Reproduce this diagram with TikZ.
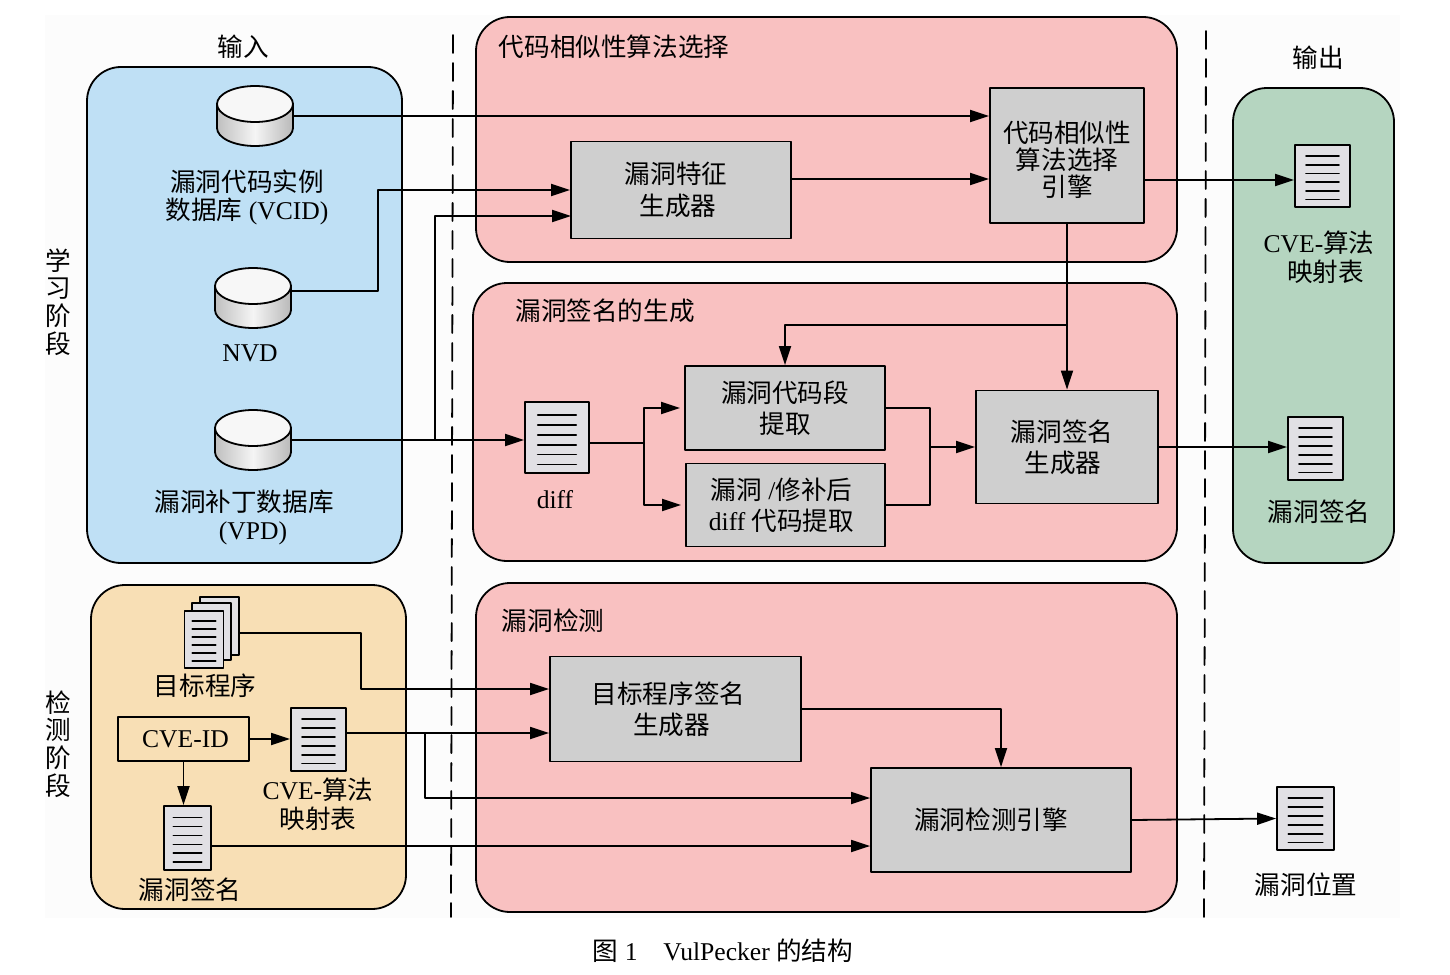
\documentclass[tikz,border=0pt]{standalone}
\usepackage{fontspec}
\setmainfont{Liberation Serif}
\newfontfamily\cjk{Noto Sans CJK SC}
\newcommand{\zh}[1]{{\cjk #1}}
\usepackage{tikz}
\usetikzlibrary{positioning}
\usetikzlibrary{calc}
\usetikzlibrary{arrows.meta}

\definecolor{bluepanel}{HTML}{BFE0F5}
\definecolor{orangepanel}{HTML}{F8DFB5}
\definecolor{pinkpanel}{HTML}{F9C1C1}
\definecolor{greenpanel}{HTML}{B5D5C0}
\definecolor{boxgray}{HTML}{CFCFCF}
\definecolor{docgray}{HTML}{E1E0E4}
\definecolor{bgfaint}{HTML}{FCFCFC}

\def\ppb{path picture bounding box}
\tikzset{
	panel/.style={draw,line width=.9pt,rounded corners=17pt},
	txt/.style={align=center,inner sep=0pt,font=\fontsize{12.8pt}{14.5pt}\selectfont},
	grey/.style={draw,line width=.9pt,fill=boxgray,align=center,inner sep=0pt,font=\fontsize{12.8pt}{15.7pt}\selectfont},
	page/.style={draw,line width=.9pt,fill=docgray,inner sep=0pt},
	doc/.style={page,path picture={
		\foreach \k in {0.18,0.32,0.46,0.60,0.74,0.88}
			\draw[line width=.9pt] ({$(\ppb.north west)!\k!(\ppb.south west)$} -| {$(\ppb.north west)!.2!(\ppb.north east)$}) -- ({$(\ppb.north west)!\k!(\ppb.south west)$} -| {$(\ppb.north west)!.8!(\ppb.north east)$});
	}},
	dbbox/.style={inner sep=0pt,minimum width=38pt,minimum height=30pt},
	line/.style={line width=.9pt},
	arr/.style={line width=.9pt,-{Triangle[length=9.5pt,width=6pt]}},
}
\newcommand{\dbicon}[3]{
	\node[dbbox] (#1) at (#2,#3) {};
	\begin{scope}[shift={(#2,#3)}]
		\shade[left color=gray!50,right color=gray!55,middle color=gray!8] (-38,-12) -- (-38,12) arc[start angle=180,end angle=0,x radius=38,y radius=18] -- (38,-12) -- cycle;
		\draw[line width=.9pt] (-38,-12) -- (-38,12) arc[start angle=180,end angle=0,x radius=38,y radius=18] -- (38,-12);
		\draw[line width=.9pt,fill=gray!6] (0,-12) ellipse [x radius=38,y radius=18];
	\end{scope}
}

\begin{document}
\begin{tikzpicture}[line cap=round,line join=round,x=0.5pt,y=-0.5pt]
	\useasboundingbox (0,0) rectangle (1450,974);
	\fill[white] (0,0) rectangle (1450,974);
	\fill[bgfaint] (45,15) rectangle (1400,918);
	
	% panels
	\draw [panel,fill=bluepanel] (87,67) rectangle (402,563);
	\draw [panel,fill=orangepanel] (91,585) rectangle (406,909);
	\draw [panel,fill=pinkpanel] (476,17) rectangle (1177,262);
	\draw [panel,fill=pinkpanel] (473,283) rectangle (1177,561);
	\draw [panel,fill=pinkpanel] (476,583) rectangle (1177,912);
	\draw [panel,fill=greenpanel] (1233,88) rectangle (1394,563);
	
	% phase borders
	\draw [line width=.9pt,dash pattern=on 9pt off 5pt] (453,35) -- (451,917);
	\draw [line width=.9pt,dash pattern=on 9pt off 5pt] (1206,31) -- (1204,917);
	
	% headings
	\node[txt] (inputlabel) at (243,47) {\zh{输入}};
	\node[txt] (outputlabel) at (1318,58) {\zh{输出}};
	\node[txt,font=\fontsize{12.8pt}{13.8pt}\selectfont] (learnlabel) at (58,302) {\zh{学}\\\zh{习}\\\zh{阶}\\\zh{段}};
	\node[txt,font=\fontsize{12.8pt}{13.8pt}\selectfont] (detectlabel) at (58,744) {\zh{检}\\\zh{测}\\\zh{阶}\\\zh{段}};
	\node[txt] (selectlabel) at (614,47) {\zh{代码相似性算法选择}};
	\node[txt] (signlabel) at (605,311) {\zh{漏洞签名的生成}};
	\node[txt] (vuldetlabel) at (553,621) {\zh{漏洞检测}};
	
	% input databases
	\dbicon{vcid}{255}{116}
	\dbicon{nvd}{253}{298}
	\dbicon{vpd}{253}{440}
	\node[txt,font=\fontsize{12.8pt}{14pt}\selectfont] (vcidlabel) at (247,197) {\zh{漏洞代码实例}\\\zh{数据库} (VCID)};
	\node[txt] (nvdlabel) at (250,353) {NVD};
	\node[txt,font=\fontsize{12.8pt}{14pt}\selectfont] (vpdlabel) at (244,517) {\zh{漏洞补丁数据库}\\\hspace*{9pt}(VPD)};
	
	% grey boxes
	\node[grey,minimum width=110pt,minimum height=48.5pt] (featgen) at (681,190) {\zh{漏洞特征}\hspace*{5pt}\\\zh{生成器}\hspace*{3pt}};
	\node[grey,minimum width=77pt,minimum height=67.5pt] (selengine) at (1067,155.5) {};
	\node[txt,font=\fontsize{12.8pt}{13.6pt}\selectfont] (selenginetext) at (1067,159.5) {\zh{代码相似性}\\\zh{算法选择}\\\zh{引擎}};
	\node[grey,minimum width=100pt,minimum height=42pt] (extract) at (785,408) {\zh{漏洞代码段}\\\zh{提取}};
	\node[grey,minimum width=99.5pt,minimum height=41.5pt] (diffextract) at (785.5,505) {\zh{漏洞} /\zh{修补后}\hspace*{4pt}\\diff \zh{代码提取}\hspace*{4pt}};
	\node[grey,minimum width=91pt,minimum height=56.5pt] (signgen) at (1067,447) {\zh{漏洞签名}\hspace*{5pt}\\\zh{生成器}\hspace*{4pt}};
	\node[grey,minimum width=125.5pt,minimum height=52.5pt] (targetgen) at (675.5,709) {\zh{目标程序签名}\hspace*{7pt}\\\zh{生成器}\hspace*{4pt}};
	\node[grey,minimum width=130pt,minimum height=52pt] (detengine) at (1001,820) {\zh{漏洞检测引擎}\hspace*{10pt}};
	\node[draw,line width=.9pt,inner sep=0pt,minimum width=65.5pt,minimum height=22pt,font=\fontsize{12.8pt}{15pt}\selectfont] (cveid) at (183.5,739) {\hspace*{2pt}CVE-ID};
	
	% documents
	\node[doc,minimum width=27.5pt,minimum height=31pt] (cvemapout) at (1322.5,176) {};
	\node[doc,minimum width=27.5pt,minimum height=31.5pt] (signout) at (1315.5,448.5) {};
	\node[doc,minimum width=32pt,minimum height=35.5pt] (diffdoc) at (557,437.5) {};
	\node[doc,minimum width=28.5pt,minimum height=31.5pt] (locdoc) at (1305.5,818.5) {};
	\node[doc,minimum width=27.5pt,minimum height=31.5pt] (cvemap) at (318.5,739.5) {};
	\node[doc,minimum width=23.5pt,minimum height=32pt] (signdoc) at (187.5,838) {};
	\node[page,minimum width=19.5pt,minimum height=29pt] (progback) at (219.5,626) {};
	\node[page,minimum width=19.5pt,minimum height=28.5pt] (progmid) at (211.5,631.5) {};
	\node[doc,minimum width=19.5pt,minimum height=28.5pt] (progdoc) at (204,639.5) {};
	
	% document labels
	\node[txt] (cvemapoutlabel) at (1319,257) {CVE-\zh{算法}\\\ \ \zh{映射表}};
	\node[txt] (signoutlabel) at (1319,512) {\zh{漏洞签名}};
	\node[txt] (difflabel) at (555,500) {diff};
	\node[txt] (loclabel) at (1306,885) {\zh{漏洞位置}};
	\node[txt] (proglabel) at (205,686) {\zh{目标程序}};
	\node[txt] (cvemaplabel) at (318,804) {CVE-\zh{算法}\\\zh{映射表}};
	\node[txt] (signdoclabel) at (190,890) {\zh{漏洞签名}};
	\node[txt] (caption) at (723,951) {\zh{图} 1\quad VulPecker \zh{的结构}};
	
	% branch points
	\coordinate (vpdsplit) at (435,440);
	\coordinate (featin) at (571,216);
	\coordinate (selsplit) at (1067,325);
	\coordinate (diffsplit) at (644,443);
	\coordinate (mergept) at (930,447);
	\coordinate (cvesplit) at (425,733);
	
	% learning stage
	\draw [arr] (vcid.east) -- (vcid.east -| selengine.west);
	\draw [arr] (nvd.east |- 0,291) -- (378,291) |- (featgen.west);
	\draw [arr] (vpd.east) -- (vpd.east -| diffdoc.west);
	\draw [arr] (vpdsplit) |- (featin);
	\draw [arr] (featgen.east |- 0,179) -- (selengine.west |- 0,179);
	\draw [arr] (selengine.east |- 0,180) -- (cvemapout.west |- 0,180);
	\draw [arr] (selengine.south) -- (signgen.north);
	\draw [arr] (selsplit) -| (extract.north);
	\draw [line] (diffdoc.east |- diffsplit) -- (diffsplit);
	\draw [arr,shorten >=2pt] (diffsplit) |- (extract.west);
	\draw [arr,shorten >=2pt] (diffsplit) |- (diffextract.west);
	\draw [line] (extract.east) -| (mergept) |- (diffextract.east);
	\draw [arr] (mergept) -- (signgen.west);
	\draw [arr] (signgen.east) -- (signgen.east -| signout.west);
	
	% detection stage
	\draw [arr] (progback.east |- 0,633) -- (361,633) |- (targetgen.west |- 0,689);
	\draw [arr] (cveid.east) -- (cvemap.west |- cveid.east);
	\draw [arr] (cveid.south) -- (cveid.south |- signdoc.north);
	\draw [arr] (cvemap.east |- cvesplit) -- (targetgen.west |- cvesplit);
	\draw [arr] (cvesplit) |- (detengine.west |- 0,798);
	\draw [arr] (signdoc.east |- 0,846) -- (detengine.west |- 0,846);
	\draw [arr] (targetgen.east) -| (detengine.north);
	\draw [arr] (detengine.east) -- (locdoc.west);
\end{tikzpicture}
\end{document}
